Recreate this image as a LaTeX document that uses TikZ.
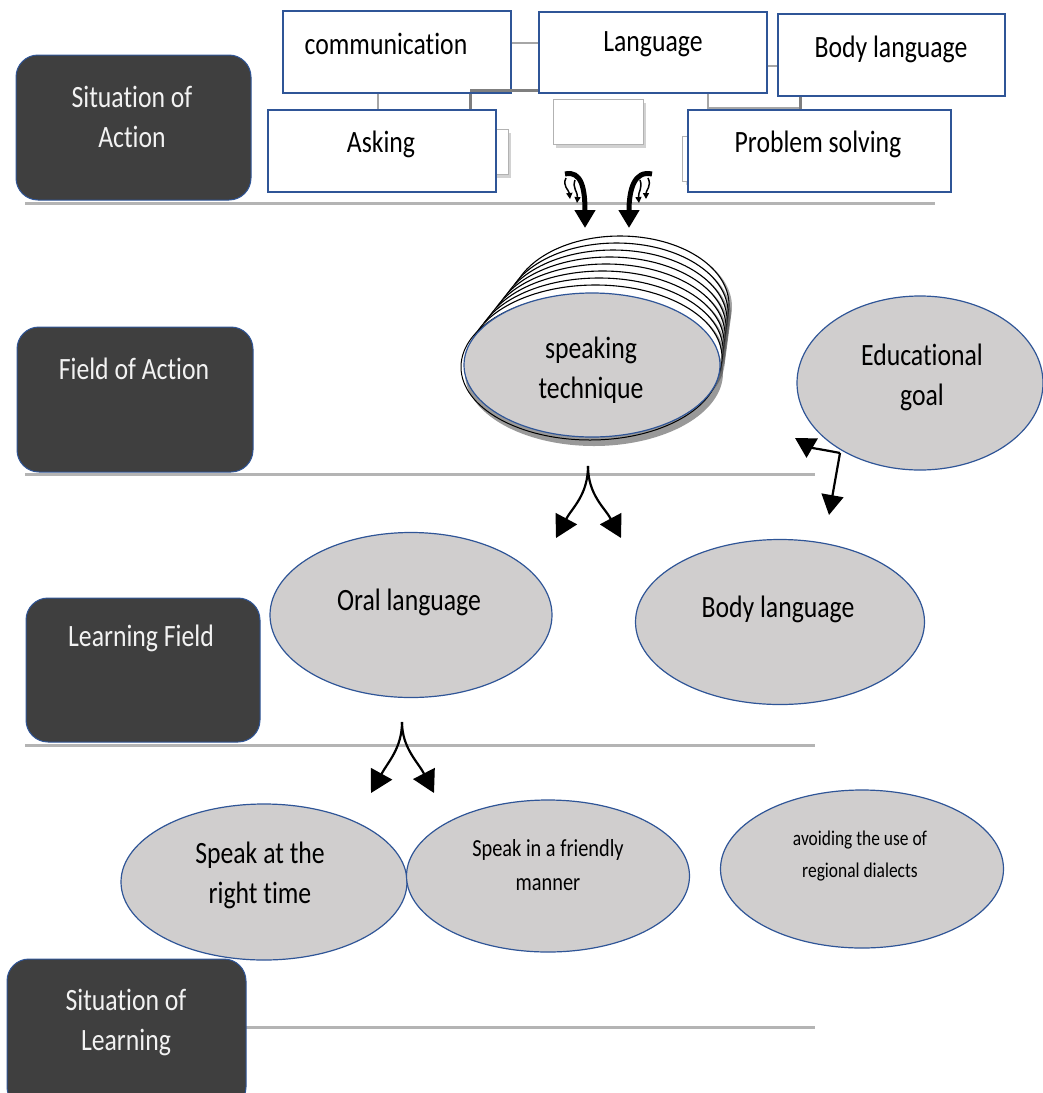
\documentclass[tikz,border=0pt]{standalone}
\usepackage{fontspec}
\setmainfont{Carlito}[FakeStretch=0.83,Ligatures=NoCommon]
\usetikzlibrary{arrows.meta,shapes.geometric,shadows}
\definecolor{darkbox}{HTML}{3F3F3F}
\definecolor{bord}{HTML}{2F5597}
\definecolor{ellfill}{HTML}{D0CECE}
\definecolor{rulegray}{HTML}{B4B4B4}
\definecolor{linkgray}{HTML}{A6A6A6}
\definecolor{linkdark}{HTML}{7F7F7F}
\begin{document}
\begin{tikzpicture}[x=1pt,y=-1pt,
  darkb/.style={draw=bord,line width=1pt,fill=darkbox,rounded corners=22pt,inner sep=0pt},
  darkt/.style={text=white!95!black,font=\fontsize{31}{40}\selectfont,align=center,inner sep=0pt},
  topbox/.style={draw=bord,line width=1.2pt,fill=white,inner sep=0pt},
  topt/.style={font=\fontsize{31}{40}\selectfont,inner sep=0pt},
  backbox/.style={draw=gray!60,line width=1pt,fill=white,inner sep=0pt,
     drop shadow={shadow xshift=3pt,shadow yshift=-3pt,fill=gray!70}},
  ell/.style={ellipse,draw=bord,line width=1.2pt,fill=ellfill,inner sep=0pt},
  ellt/.style={font=\fontsize{31}{40}\selectfont,align=center,inner sep=0pt},
  stackell/.style={ellipse,draw=black,line width=1.1pt,fill=white,inner sep=0pt},
  rulel/.style={draw=rulegray,line width=3pt},
  bigarrow/.style={line width=2.2pt,-{Triangle[width=24pt,length=22pt]}},
  curlarrow/.style={line width=5pt,-{Triangle[width=20pt,length=18pt]}},
  smallcurl/.style={line width=1.5pt,-{Triangle[width=6pt,length=6pt]}}
]
\useasboundingbox (0,0) rectangle (1043,1093);

% ---------- horizontal rules ----------
\coordinate (r1a) at (25,203);  \coordinate (r1b) at (935,203);
\coordinate (r2a) at (25,474);  \coordinate (r2b) at (815,474);
\coordinate (r3a) at (25,745);  \coordinate (r3b) at (815,745);
\coordinate (r4a) at (246,1027); \coordinate (r4b) at (815,1027);
\draw[rulel] (r1a) -- (r1b);
\draw[rulel] (r2a) -- (r2b);
\draw[rulel] (r3a) -- (r3b);
\draw[rulel] (r4a) -- (r4b);

% ---------- dark label boxes ----------
\node[darkb,minimum width=235pt,minimum height=145pt] (sa) at (133.5,127.5) {};
\node[darkt] (sat) at (132,117) {Situation of\\Action};
\node[darkb,minimum width=236pt,minimum height=145pt] (fa) at (135,399.5) {};
\node[darkt] (fat) at (134,369) {Field of Action};
\node[darkb,minimum width=234pt,minimum height=144pt] (lf) at (143,670) {};
\node[darkt] (lft) at (141,638) {Learning Field};
\node[darkb,minimum width=239pt,minimum height=150pt] (sl) at (126.5,1034) {};
\node[darkt] (slt) at (126,1022) {Situation of\\Learning};

% ---------- top SmartArt boxes ----------
\node[backbox,minimum width=68pt,minimum height=45pt] (bk1) at (474,152) {};
\node[backbox,minimum width=57pt,minimum height=45pt] (bk2) at (711,159) {};
\node[backbox,minimum width=90pt,minimum height=45pt] (bk3) at (598,122) {};

\node[topbox,minimum width=228pt,minimum height=82pt] (comm) at (397,52) {};
\node[topbox,minimum width=228pt,minimum height=81pt] (lang) at (653,52.5) {};
\node[topbox,minimum width=227pt,minimum height=82pt] (body) at (891.5,55) {};

% connector lines of the SmartArt
\draw[linkgray,line width=1.5pt] (comm.east |- 0,43) -- (lang.west |- 0,43);
\draw[linkgray,line width=1.5pt] (lang.east |- 0,66) -- (body.west |- 0,66);
\draw[linkgray,line width=1.5pt] (comm.south -| 378,0) -- (378,110);
\draw[linkdark,line width=3pt] (comm.south -| 470,0) -- (470,110);
\draw[linkdark,line width=3pt] (470,90) -- (lang.south west |- 0,90);
\draw[linkgray,line width=1.5pt] (lang.south -| 708,0) -- (708,108) -- (800,108);
\draw[linkdark,line width=3pt] (body.south -| 800,0) -- (800,110);

\node[topbox,minimum width=228pt,minimum height=82pt] (ask) at (382,151) {};
\node[topbox,minimum width=263pt,minimum height=82pt] (prob) at (819.5,151) {};

\node[topt] (commt) at (386,44) {communication};
\node[topt] (langt) at (653,44) {Language};
\node[topt] (bodyt) at (891,49) {Body language};
\node[topt] (askt) at (381,144) {Asking};
\node[topt] (probt) at (818,144) {Problem solving};

% ---------- curly arrows into the stack ----------
\coordinate (c1s) at (565,174);
\coordinate (c1e) at (585,228);
\coordinate (c2s) at (652,174);
\coordinate (c2e) at (629,228);
\draw[curlarrow] (c1s) .. controls (582,170) and (585,190) .. (c1e);
\draw[curlarrow] (c2s) .. controls (634,170) and (629,190) .. (c2e);
\draw[smallcurl] (566,178) .. controls (562,186) and (569,190) .. (570,199);
\draw[smallcurl] (575,180) .. controls (572,188) and (578,192) .. (577,203);
\draw[smallcurl] (648,178) .. controls (652,186) and (646,190) .. (646,199);
\draw[smallcurl] (640,180) .. controls (643,188) and (638,192) .. (639,203);

% ---------- stacked ellipse "speaking technique" ----------
\foreach \i in {8,7,...,1} {
  \node[stackell,minimum width={258pt-5pt*\i},minimum height={146pt-1pt*\i},
        drop shadow={shadow xshift=3pt,shadow yshift=-2pt,fill=black!70}]
        (st\i) at (592+3.5*\i,365-7.5*\i) {};
}
\node[ellipse,draw=black,line width=1pt,minimum width=258pt,minimum height=146pt,inner sep=0pt,
      drop shadow={shadow xshift=4pt,shadow yshift=-6pt,fill=black!80}] (stb) at (590,367) {};
\node[ell,minimum width=256pt,minimum height=144pt] (speak) at (592,365) {};
\node[ellt] (speakt) at (591,370) {speaking\\technique};

% ---------- other ellipses ----------
\node[ell,minimum width=246pt,minimum height=174pt] (edu) at (920,383) {};
\node[ellt] (edut) at (922,377) {Educational\\goal};
\node[ell,minimum width=282pt,minimum height=165pt] (oral) at (411,615) {};
\node[ellt] (oralt) at (409,602) {Oral language};
\node[ell,minimum width=289pt,minimum height=165pt] (bodyl) at (780,622) {};
\node[ellt] (bodylt) at (778,609) {Body language};
\node[ell,minimum width=286pt,minimum height=156pt] (sr) at (264,882) {};
\node[ellt] (srt) at (260,875) {Speak at the\\right time};
\node[ell,minimum width=283pt,minimum height=152pt] (sf) at (548,876) {};
\node[ellt,font=\fontsize{24.5}{34}\selectfont] (sft) at (548,865) {Speak in a friendly\\manner};
\node[ell,minimum width=283pt,minimum height=158pt] (av) at (862,869) {};
\node[ellt,font=\fontsize{21}{32}\selectfont] (avt) at (860,856) {avoiding the use of\\regional dialects};

% ---------- split arrows ----------
\coordinate (ap1) at (588,466);
\coordinate (ap1l) at (556,538);
\coordinate (ap1r) at (621,538);
\draw[bigarrow] (ap1) .. controls (588,495) and (572,508) .. (ap1l);
\draw[bigarrow] (ap1) .. controls (588,495) and (605,508) .. (ap1r);

\coordinate (ap2) at (402,722);
\coordinate (ap2l) at (371,793);
\coordinate (ap2r) at (434,793);
\draw[bigarrow] (ap2) .. controls (402,748) and (388,762) .. (ap2l);
\draw[bigarrow] (ap2) .. controls (402,748) and (418,762) .. (ap2r);

% ---------- arrows from educational goal ----------
\coordinate (ej) at (840,453);
\coordinate (ejl) at (795,438);
\coordinate (ejd) at (829,515);
\draw[bigarrow,-{Triangle[width=22pt,length=20pt]}] (ej) .. controls (825,450) and (812,448) .. (ejl);
\draw[bigarrow,-{Triangle[width=22pt,length=20pt]}] (ej) -- (ejd);
\end{tikzpicture}
\end{document}
